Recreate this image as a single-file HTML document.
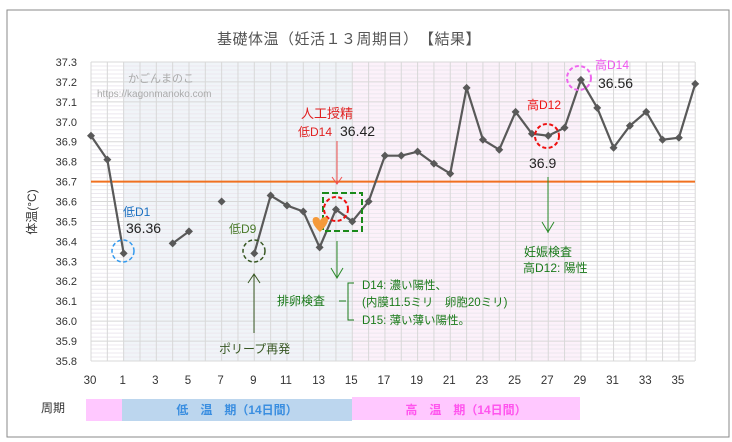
<!DOCTYPE html>
<html><head><meta charset="utf-8"><style>
body{margin:0;background:#fff}
svg{display:block}
text{font-family:"Liberation Sans","Noto Sans CJK JP",sans-serif}
</style></head><body>
<svg id="s" width="732" height="442" viewBox="0 0 732 442" xmlns="http://www.w3.org/2000/svg">
<rect x="0" y="0" width="732" height="442" fill="#fff"/>
<rect x="7" y="10" width="722" height="427" fill="#fff" stroke="#8a8a8a" stroke-width="1"/>
<rect x="123" y="62" width="229" height="299" fill="#f0f4f8"/>
<rect x="352" y="62" width="228" height="299" fill="#fcf1fa"/>
<g id="grid"></g>
<line x1="91" y1="181.6" x2="695" y2="181.6" stroke="#f07020" stroke-width="2"/>
<g id="ser"></g>
<text x="349" y="44" font-size="15" fill="#555" text-anchor="middle" letter-spacing="0.5">基礎体温（妊活１３周期目）　【結果】</text>
<g font-size="11" fill="#333" text-anchor="end" id="ylab"></g>
<g font-size="11.5" fill="#333" text-anchor="middle" id="xlab"></g>
<text transform="translate(36,212) rotate(-90)" font-size="12" fill="#333" text-anchor="middle">体温(°C)</text>
<text x="128" y="82" font-size="11" fill="#aaa">かごんまのこ</text>
<text x="97" y="97" font-size="10" fill="#aaa">https://kagonmanoko.com</text>
<circle cx="123" cy="251" r="11" fill="none" stroke="#3399ee" stroke-width="1.5" stroke-dasharray="4,2.5"/>
<text x="123" y="216" font-size="12" fill="#1a6fc0">低D1</text>
<text x="126" y="233" font-size="14" fill="#222">36.36</text>
<circle cx="254" cy="251" r="11" fill="none" stroke="#385723" stroke-width="1.5" stroke-dasharray="4,2.5"/>
<text x="229" y="233" font-size="12" fill="#4a7a2a">低D9</text>
<line x1="254" y1="333" x2="254" y2="275" stroke="#385723" stroke-width="1"/>
<polyline points="248,283 254,274 260,283" fill="none" stroke="#385723"/>
<text x="219" y="353" font-size="12" fill="#385723">ポリープ再発</text>
<text x="301" y="118" font-size="13" fill="#e02020">人工授精</text>
<text x="298" y="136" font-size="12" fill="#e02020">低D14</text>
<text x="340" y="136" font-size="14" fill="#222">36.42</text>
<line x1="337" y1="141" x2="337" y2="184" stroke="#f05050"/>
<polyline points="332,177 337,184 342,177" fill="none" stroke="#f05050"/>
<rect x="323" y="193" width="39" height="38" fill="none" stroke="#1a8a1a" stroke-width="2" stroke-dasharray="6,3"/>
<circle cx="336" cy="209" r="12" fill="none" stroke="#ee1111" stroke-width="2" stroke-dasharray="4,2.5"/>
<path d="M320 232 C311 224 311 217 316 217 C319 217 320 220 320 221 C320 220 322 217 325 217 C330 217 329 224 320 232 Z" fill="#f59a3a"/>
<line x1="337" y1="241" x2="337" y2="278" stroke="#2a8a2a"/>
<polyline points="331,268 337,278 343,268" fill="none" stroke="#2a8a2a"/>
<text x="277" y="305" font-size="12" fill="#1a7a1a">排卵検査</text>
<path d="M339 301 H346 M354 283 H348 V320 H354" fill="none" stroke="#1a7a1a"/>
<text x="362" y="289" font-size="11.5" fill="#1a7a1a">D14: 濃い陽性、</text>
<text x="362" y="306" font-size="11.5" fill="#1a7a1a">(内膜11.5ミリ　卵胞20ミリ)</text>
<text x="362" y="324" font-size="11.5" fill="#1a7a1a">D15: 薄い薄い陽性。</text>
<circle cx="547" cy="136" r="12" fill="none" stroke="#ee1111" stroke-width="2" stroke-dasharray="4,2.5"/>
<text x="527" y="109" font-size="12" fill="#ee1111">高D12</text>
<text x="529" y="168" font-size="14" fill="#222">36.9</text>
<line x1="548" y1="177" x2="548" y2="233" stroke="#2a8a2a"/>
<polyline points="542,222 548,232 554,222" fill="none" stroke="#2a8a2a"/>
<text x="524" y="256" font-size="12" fill="#1a7a1a">妊娠検査</text>
<text x="523" y="272" font-size="12" fill="#1a7a1a">高D12: 陽性</text>
<circle cx="579" cy="78" r="12" fill="none" stroke="#ee66ee" stroke-width="2" stroke-dasharray="4,2.5"/>
<text x="595" y="69" font-size="12" fill="#ee55ee">高D14</text>
<text x="598" y="88" font-size="14" fill="#222">36.56</text>
<text x="41" y="412" font-size="12" fill="#333">周期</text>
<rect x="86" y="399" width="37" height="22" fill="#ffc8ff"/>
<rect x="122" y="399" width="230" height="22" fill="#bcd6ee"/>
<rect x="352" y="397" width="228" height="23" fill="#ffc8ff"/>
<text x="237" y="414" font-size="12" fill="#3a8ee0" text-anchor="middle" font-weight="bold">低　温　期（14日間）</text>
<text x="466" y="414" font-size="12" fill="#ff55ee" text-anchor="middle" font-weight="bold">高　温　期（14日間）</text>
</svg>
<script>
var ns="http://www.w3.org/2000/svg";
function el(p,t,a,tx){var e=document.createElementNS(ns,t);for(var k in a)e.setAttribute(k,a[k]);if(tx)e.textContent=tx;document.getElementById(p).appendChild(e);return e;}
function X(i){return 91+i*16.33}
function Y(v){return 62+(37.3-v)*199.3}
for(var k=0;k<=75;k++){var y=62+k*299/75;el("grid","line",{x1:91,x2:695,y1:y,y2:y,stroke:k%5==0?"#d8d8d8":"#ece8ef","stroke-width":1});}
for(var i=0;i<=37;i++){el("grid","line",{x1:X(i),x2:X(i),y1:62,y2:361,stroke:"#d8d8d8","stroke-width":1});}
var labs=["37.3","37.2","37.1","37.0","36.9","36.8","36.7","36.6","36.5","36.4","36.3","36.2","36.1","36.0","35.9","35.8"];
for(var k=0;k<16;k++)el("ylab","text",{x:77,y:62+k*19.93+4},labs[k]);
var xl=["30","1","3","5","7","9","11","13","15","17","19","21","23","25","27","29","31","33","35"];
for(var k=0;k<xl.length;k++)el("xlab","text",{x:X(2*k)-1,y:384},xl[k]);
var d=[36.93,36.81,36.34,null,null,36.39,36.45,null,36.6,null,36.34,36.63,36.58,36.55,36.37,36.56,36.5,36.6,36.83,36.83,36.85,36.79,36.74,37.17,36.91,36.86,37.05,36.94,36.93,36.97,37.21,37.07,36.87,36.98,37.05,36.91,36.92,37.19];
var seg=[];
for(var i=0;i<d.length;i++){if(d[i]==null){if(seg.length>1)el("ser","polyline",{points:seg.join(" "),fill:"none",stroke:"#595959","stroke-width":2.2});seg=[];continue;}seg.push(X(i)+","+Y(d[i]));}
if(seg.length>1)el("ser","polyline",{points:seg.join(" "),fill:"none",stroke:"#595959","stroke-width":2.2});
for(var i=0;i<d.length;i++){if(d[i]==null)continue;var x=X(i),y=Y(d[i]);el("ser","polygon",{points:(x)+","+(y-4)+" "+(x+4)+","+y+" "+x+","+(y+4)+" "+(x-4)+","+y,fill:"#595959"});}
</script>
</body></html>
